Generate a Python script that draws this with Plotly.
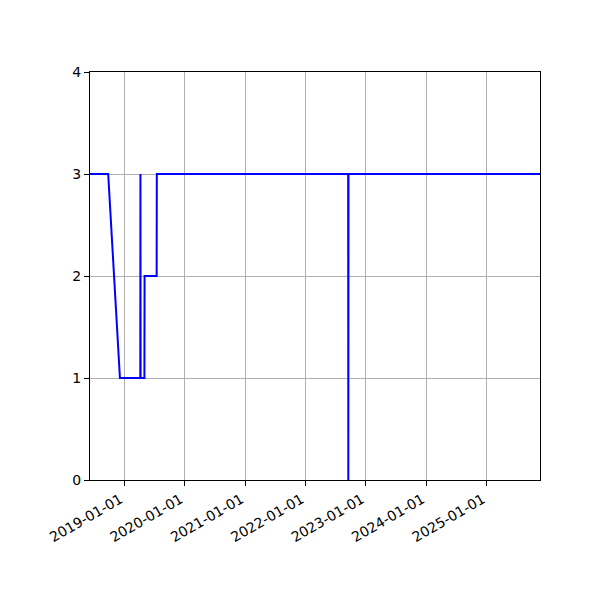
import plotly.graph_objects as go

# Data
dates = ["2018-06-08", "2018-09-26", "2018-12-06", "2019-04-08", "2019-04-09",
         "2019-04-10", "2019-05-03", "2019-05-04", "2019-07-16", "2019-07-17",
         "2022-09-16", "2022-09-17", "2022-09-18", "2025-11-19"]
values = [3, 3, 1, 1, 3, 1, 1, 2, 2, 3, 3, 0, 3, 3]

x_ticks = ["2019-01-01", "2020-01-01", "2021-01-01", "2022-01-01",
           "2023-01-01", "2024-01-01", "2025-01-01"]
y_ticks = [0, 1, 2, 3, 4]
x_range = ["2018-06-08", "2025-11-19"]
y_range = [0, 4]

fig = go.Figure()
fig.add_trace(go.Scatter(x=dates, y=values, mode="lines",
                         line=dict(color="#0000ff", width=2), showlegend=False))

axis_common = dict(showline=True, linecolor="black", linewidth=1, mirror=True,
                   ticks="outside", ticklen=5, tickcolor="black", tickwidth=1,
                   showgrid=True, gridcolor="#b0b0b0", gridwidth=1, zeroline=False,
                   tickfont=dict(family="DejaVu Sans", size=14, color="black"))

fig.update_layout(
    width=600, height=600,
    margin=dict(l=82, r=68, t=64, b=128),
    paper_bgcolor="white", plot_bgcolor="white",
    xaxis=dict(type="date", range=x_range, tickvals=x_ticks, ticktext=x_ticks,
               tickangle=-30, ticklabelshift=-4, **axis_common),
    yaxis=dict(range=y_range, tickvals=y_ticks, ticktext=[str(v) for v in y_ticks],
               **axis_common),
)

fig.write_html("out.html")
